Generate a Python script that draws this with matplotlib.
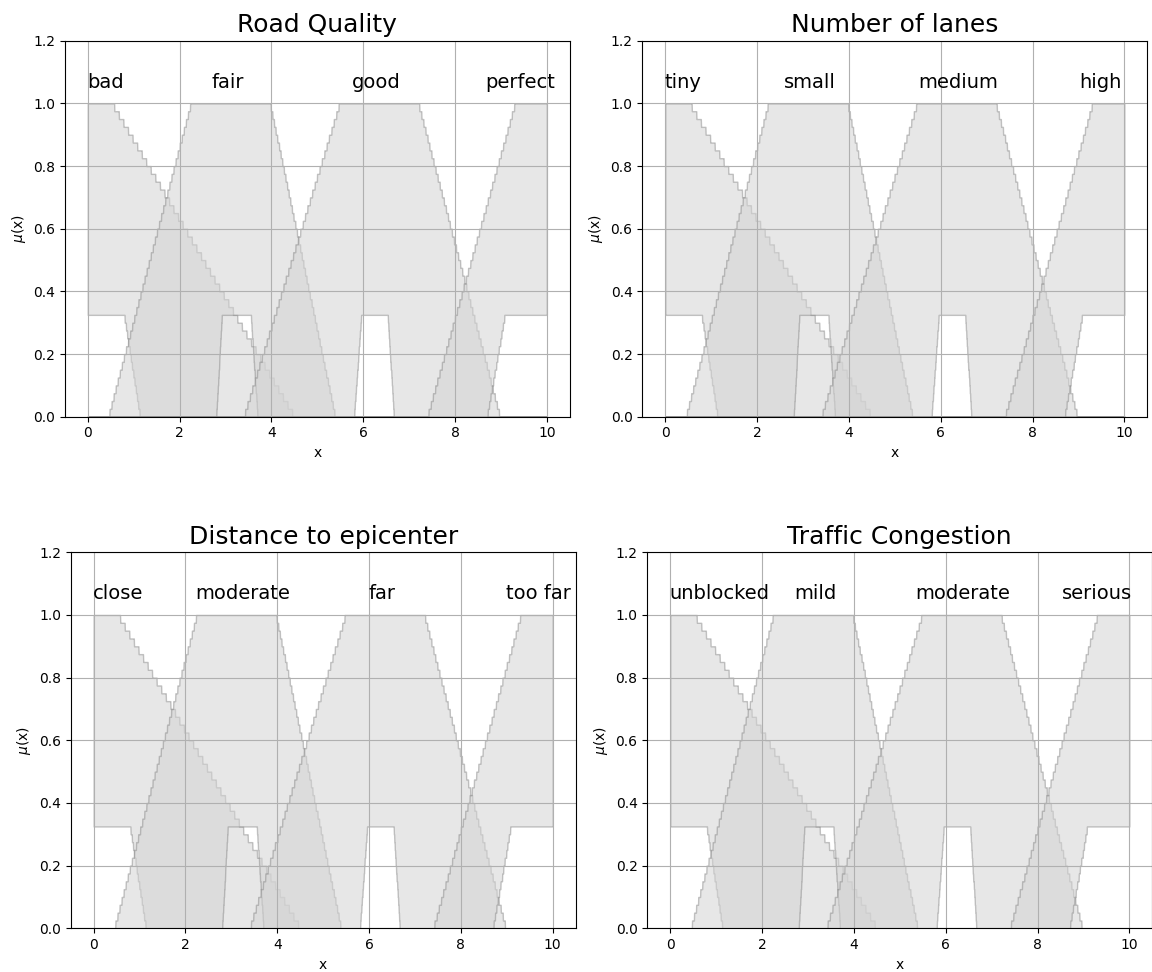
import numpy as np
import matplotlib
matplotlib.use('Agg')
import matplotlib.pyplot as plt

# four linguistic variables, each with four interval type-2 sets
titles = ['Road Quality', 'Number of lanes', 'Distance to epicenter', 'Traffic Congestion']
set_names = [
    ['bad', 'fair', 'good', 'perfect'],
    ['tiny', 'small', 'medium', 'high'],
    ['close', 'moderate', 'far', 'too far'],
    ['unblocked', 'mild', 'moderate', 'serious'],
]

# trapezoid corners (a, b, c, d) of the upper membership functions
upper_params = [
    (0.0, 0.0, 0.53, 4.5),
    (0.45, 2.25, 3.97, 5.39),
    (3.4, 5.49, 7.2, 8.98),
    (7.4, 9.31, 10.0, 10.0),
]
# trapezoid corners of the lower membership functions and their height
lower_params = [
    (0.0, 0.0, 0.79, 1.14),
    (2.8, 2.92, 3.55, 3.7),
    (5.8, 5.96, 6.53, 6.67),
    (8.7, 9.09, 10.0, 10.0),
]
lower_height = 0.325

# where the set names sit (x centre of each label)
label_x = [
    [0.39, 3.04, 6.29, 9.41],
    [0.39, 3.15, 6.37, 9.47],
    [0.54, 3.24, 6.27, 9.69],
    [1.08, 3.17, 6.36, 9.30],
]

domain = np.linspace(0, 10, 2001)


def trapezoid(x, a, b, c, d, h=1.0):
    rise = np.ones_like(x) if b == a else (x - a) / (b - a)
    fall = np.ones_like(x) if d == c else (d - x) / (d - c)
    mu = h * np.clip(np.minimum(rise, fall), 0, 1)
    # grades are kept at a resolution of 1/40
    return np.round(mu * 40) / 40


fig = plt.figure(figsize=(11.52, 9.72), dpi=100)
W, H = 1152.0, 972.0
# axes boxes in pixels: left, bottom(from top), width, height
boxes = [(64.8, 416.7), (642.3, 416.7), (70.7, 928.3), (647.3, 928.3)]

for k in range(4):
    left, bottom = boxes[k]
    ax = fig.add_axes([left / W, 1 - bottom / H, 505 / W, 376 / H])
    for i in range(4):
        up = trapezoid(domain, *upper_params[i])
        lo = trapezoid(domain, *lower_params[i], h=lower_height)
        ax.fill_between(domain, up, lo, facecolor=(0.83, 0.83, 0.83, 0.55),
                        edgecolor=(0.5, 0.5, 0.5, 0.45), linewidth=1.0)
        ax.text(label_x[k][i], 1.05, set_names[k][i], fontsize=14,
                ha='center', va='baseline')
    ax.set_xlim(-0.5, 10.5)
    ax.set_ylim(0, 1.2)
    ax.set_title(titles[k], fontsize=18)
    ax.set_xlabel('x')
    ax.set_ylabel(r'$\mu$(x)')
    ax.grid(True)

fig.savefig('out.png', dpi=100)
